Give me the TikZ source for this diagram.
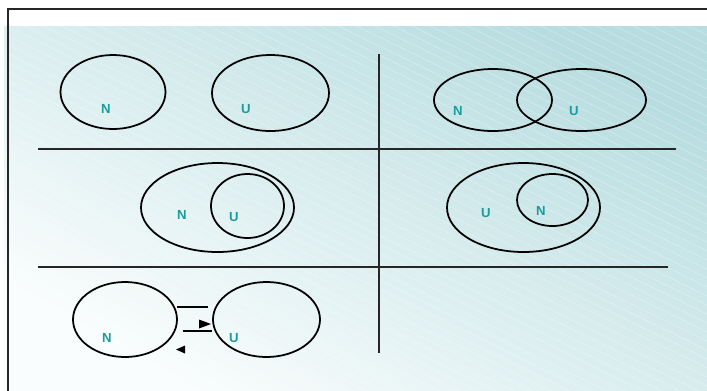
\documentclass[tikz,border=0pt]{standalone}
\usepackage{fontspec}
\newfontfamily\labelfont{Liberation Sans Bold}
\definecolor{labelteal}{HTML}{1A9C9C}
\definecolor{bgtop}{HTML}{B8DDE0}
\definecolor{bgbottom}{HTML}{FAFDFD}
\begin{document}
\begin{tikzpicture}[x=0.02cm, y=-0.02cm,
    every node/.style={font=\labelfont\fontsize{7.5}{8}\selectfont, text=labelteal, inner sep=0pt},
    setline/.style={line width=1pt, black},
    rule/.style={line width=1.2pt, black!85}]
    \useasboundingbox (0,0) rectangle (707,390);
    \clip (0,0) rectangle (707,390);

    % Фон
    \shade[top color=bgtop, bottom color=bgbottom, shading angle=-30] (4,26) rectangle (707,390);
    \begin{scope}
        \clip (4,26) rectangle (707,390);
        \foreach \k in {-400,-391,...,400}
            \draw[white, opacity=0.35, line width=0.3pt] (0,\k) -- (707,\k+345);
    \end{scope}
    \draw[rule] (8,400) -- (8,9) -- (720,9);

    % Разделители
    \draw[rule] (379,54) -- (379,353);
    \draw[rule] (38,149) -- (676,149);
    \draw[rule] (38,267) -- (668,267);

    % Непересекающиеся множества
    \draw[setline] (113,92) ellipse [x radius=52.5, y radius=37];
    \draw[setline] (270.5,93) ellipse [x radius=58.5, y radius=38];
    \node (nA) at (106,109) {N};
    \node (uA) at (246,109) {U};

    % Пересечение
    \draw[setline] (493,100) ellipse [x radius=59, y radius=31];
    \draw[setline] (581.5,100) ellipse [x radius=64.5, y radius=31];
    \node (nB) at (458,111) {N};
    \node (uB) at (574,111) {U};

    % U внутри N
    \draw[setline] (217.5,207.5) ellipse [x radius=76.5, y radius=44.5];
    \draw[setline] (247.5,206) ellipse [x radius=36.5, y radius=32];
    \node (nC) at (182,215) {N};
    \node (uC) at (234,217) {U};

    % N внутри U
    \draw[setline] (523.5,207.5) ellipse [x radius=76.5, y radius=44.5];
    \draw[setline] (552.5,200) ellipse [x radius=35.5, y radius=26];
    \node (uD) at (486,213) {U};
    \node (nD) at (541,211) {N};

    % Отображение
    \draw[setline] (125,319.5) ellipse [x radius=52, y radius=37.5];
    \draw[setline] (266.5,319.5) ellipse [x radius=53.5, y radius=37.5];
    \node (nE) at (107,338) {N};
    \node (uE) at (234,338) {U};
    \draw[setline] (177,307) -- (208,307);
    \draw[setline] (183,331) -- (212,331);
    \fill (199,319.5) -- (211,324) -- (199,328.5) -- cycle;
    \fill (185,345.5) -- (176,349.5) -- (185,353.5) -- cycle;
\end{tikzpicture}
\end{document}
